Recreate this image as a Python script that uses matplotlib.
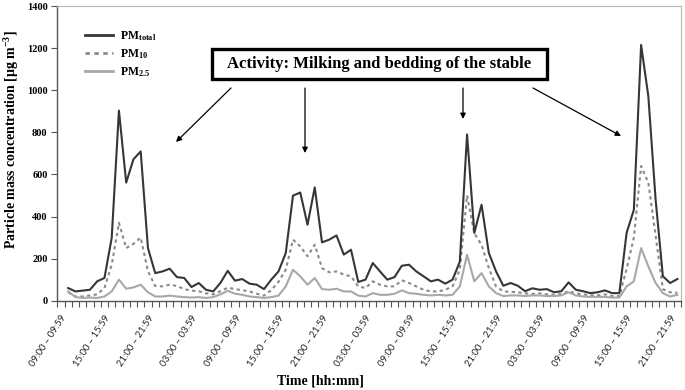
import numpy as np
import matplotlib
matplotlib.use("Agg")
import matplotlib.pyplot as plt
from matplotlib.patches import Rectangle, FancyArrowPatch

# ---------------- data ----------------
hour_index = list(range(1, 86))  # hourly categories (category 0 = 09:00-09:59 has no value)

pm_total = [60, 44, 48, 52, 92, 108, 298, 903, 561, 672, 709, 250, 131, 139, 152, 112, 108, 65, 84, 52,
            44, 85, 142, 95, 103, 81, 76, 55, 100, 139, 226, 499, 514, 361, 538, 277, 290, 310, 219, 242,
            89, 100, 179, 139, 100, 112, 166, 171, 139, 116, 92, 100, 81, 100, 185, 790, 322, 456, 227, 139,
            71, 84, 71, 45, 59, 52, 55, 40, 45, 87, 52, 45, 36, 40, 49, 36, 36, 322, 432, 1215,
            970, 480, 116, 84, 103]

pm10 = [40, 20, 20, 25, 30, 60, 170, 370, 250, 270, 300, 140, 70, 68, 76, 70, 55, 48, 45, 35,
        30, 45, 62, 55, 50, 44, 33, 24, 50, 90, 147, 290, 258, 211, 266, 155, 135, 139, 124, 116,
        68, 60, 92, 76, 68, 68, 97, 84, 68, 52, 44, 44, 52, 68, 147, 500, 320, 265, 155, 68,
        44, 42, 40, 35, 32, 35, 30, 28, 32, 45, 35, 30, 25, 25, 30, 22, 22, 150, 300, 640,
        560, 310, 55, 40, 38]

pm25 = [44, 17, 13, 15, 13, 20, 44, 100, 57, 63, 76, 40, 20, 20, 24, 20, 17, 15, 17, 13,
        17, 30, 47, 33, 28, 20, 17, 13, 17, 24, 68, 147, 116, 76, 108, 55, 52, 57, 44, 44,
        24, 20, 36, 28, 28, 33, 49, 36, 33, 28, 25, 28, 25, 28, 68, 218, 92, 131, 68, 36,
        22, 25, 25, 22, 25, 25, 22, 22, 25, 40, 25, 20, 18, 18, 18, 15, 15, 68, 92, 250,
        163, 84, 36, 20, 28]

n_categories = 86
label_positions = list(range(0, 85, 6))
tick_labels = ['09:00 – 09:59', '15:00 – 15:59', '21:00 – 21:59', '03:00 – 03:59',
               '09:00 – 09:59', '15:00 – 15:59', '21:00 – 21:59', '03:00 – 03:59',
               '09:00 – 09:59', '15:00 – 15:59', '21:00 – 21:59', '03:00 – 03:59',
               '09:00 – 09:59', '15:00 – 15:59', '21:00 – 21:59']
y_ticks = [0, 200, 400, 600, 800, 1000, 1200, 1400]

# ---------------- style ----------------
plt.rcParams['font.family'] = ['Liberation Serif', 'DejaVu Serif']
plt.rcParams['mathtext.fontset'] = 'custom'
plt.rcParams['mathtext.rm'] = 'Liberation Serif:bold'
plt.rcParams['mathtext.bf'] = 'Liberation Serif:bold'
plt.rcParams['mathtext.it'] = 'Liberation Serif:bold'
plt.rcParams['mathtext.default'] = 'bf'

W, H = 685, 390
fig = plt.figure(figsize=(W / 100, H / 100), dpi=100)
left, right, top, bottom = 57.3, 681.0, 6.0, 300.7
ax = fig.add_axes([left / W, 1 - bottom / H, (right - left) / W, (bottom - top) / H])

x = np.array(hour_index) + 0.5
c_total, c_10, c_25 = '#363636', '#8a8a8a', '#a8a8a8'
ax.plot(x, pm_total, color=c_total, lw=1.5, label=r'PM$_{\rm total}$', zorder=3)
ax.plot(x, pm10, color=c_10, lw=1.5, ls=(0, (1.6, 1.6)), label=r'PM$_{\rm 10}$', zorder=2)
ax.plot(x, pm25, color=c_25, lw=1.5, label=r'PM$_{\rm 2.5}$', zorder=2)

ax.set_xlim(0, n_categories)
ax.set_ylim(0, 1400)

# spines
for s in ['left', 'bottom']:
    ax.spines[s].set_color('#555555')
    ax.spines[s].set_linewidth(1.0)
for s in ['top', 'right']:
    ax.spines[s].set_color('#b5b5b5')
    ax.spines[s].set_linewidth(0.8)

ax.set_yticks(y_ticks)
ax.set_yticklabels([str(v) for v in y_ticks], fontsize=7.5, fontweight='bold')
ax.tick_params(axis='y', direction='out', length=4, width=0.8, color='#555555', pad=3)

ax.set_xticks(np.array(label_positions) + 0.5)
ax.set_xticklabels(tick_labels, rotation=57, ha='right', va='top', rotation_mode='anchor',
                   fontsize=6.8, family=['Lato', 'DejaVu Sans'], color='#222222')
ax.tick_params(axis='x', which='major', length=0, pad=9)
ax.set_xticks(np.arange(0, n_categories + 1), minor=True)
ax.tick_params(axis='x', which='minor', direction='out', length=4, width=0.8, color='#555555')

# axis titles
fig.text(12 / W, 1 - 140 / H, 'Particle mass concentration [µg m$^{-3}$]', rotation=90,
         ha='center', va='center', fontsize=10, fontweight='bold')
fig.text(320 / W, 1 - 381 / H, 'Time [hh:mm]', ha='center', va='center', fontsize=10,
         fontweight='bold')

# legend
leg = ax.legend(loc='upper left', bbox_to_anchor=(85 / W, 1 - 29 / H), bbox_transform=fig.transFigure,
                frameon=False, prop={'size': 8.5, 'weight': 'bold'}, handlelength=2.4,
                handletextpad=0.6, labelspacing=0.35, borderpad=0, borderaxespad=0)
for line in leg.get_lines():
    line.set_linewidth(2.0)

# activity box
bx0, bx1, by0, by1 = 211.5, 546.5, 48.5, 79.0
fig.patches.append(Rectangle((bx0 / W, 1 - by1 / H), (bx1 - bx0) / W, (by1 - by0) / H,
                             transform=fig.transFigure, facecolor='white', edgecolor='black',
                             linewidth=2.4, zorder=5))
fig.text((bx0 + bx1) / 2 / W, 1 - (by0 + by1) / 2 / H, 'Activity: Milking and bedding of the stable',
         ha='center', va='center', fontsize=12, fontweight='bold', zorder=6)

# arrows (figure pixel coordinates, y from top)
arrows = [((231, 88), (176, 142)), ((305, 88), (305, 153)),
          ((463, 88), (463, 119)), ((533, 88), (621, 136))]
for (x0, y0), (x1, y1) in arrows:
    fig.add_artist(FancyArrowPatch(
        (x0 / W, 1 - y0 / H), (x1 / W, 1 - y1 / H), transform=fig.transFigure,
        arrowstyle='-|>', mutation_scale=8, lw=0.9, color='black', shrinkA=0, shrinkB=0))

fig.savefig('out.png', dpi=100, facecolor='white')
